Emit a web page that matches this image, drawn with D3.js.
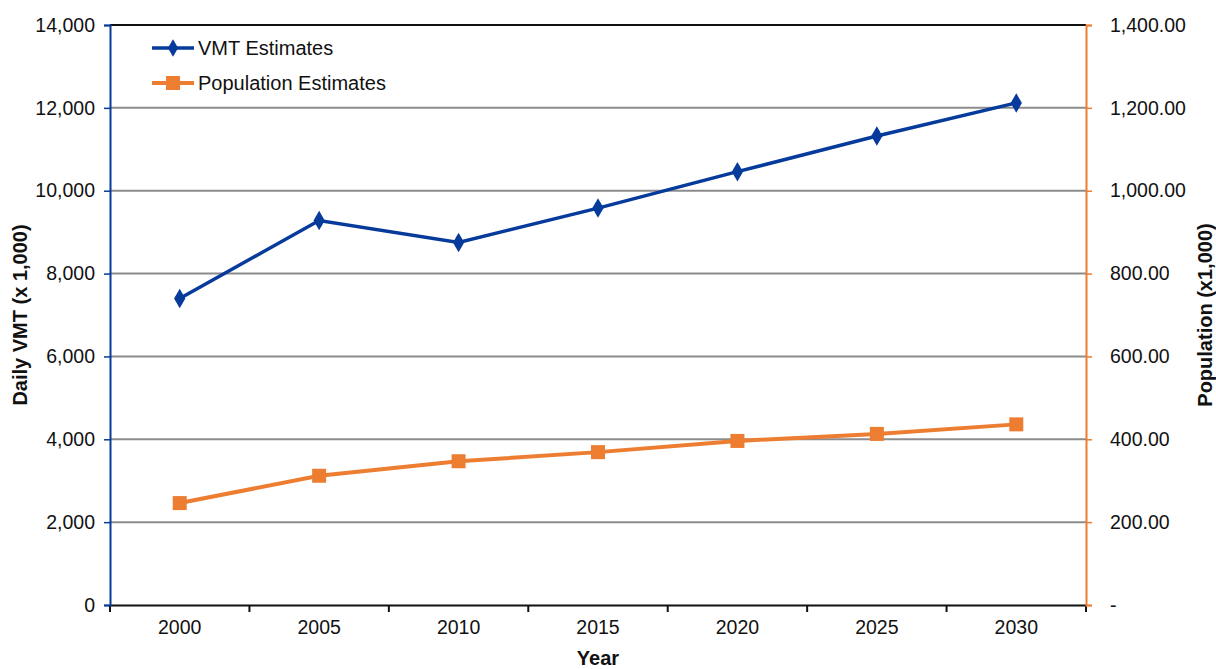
<!DOCTYPE html>
<html><head><meta charset="utf-8">
<script src="https://cdn.jsdelivr.net/npm/d3@7"></script>
<style>body{margin:0;background:#fff;font-family:"Liberation Sans",Arial,sans-serif;}</style>
</head><body>
<svg id="c" width="1216" height="669"></svg>
<script>
const years = ["2000","2005","2010","2015","2020","2025","2030"];
const vmt = [7400, 9280, 8750, 9580, 10460, 11320, 12120];
const population = [246, 312, 347, 369, 396, 413, 436];
const leftTicks = [0,2000,4000,6000,8000,10000,12000,14000];
const rightTicks = [0,200,400,600,800,1000,1200,1400];

const svg = d3.select("#c");
const m = {l:110, r:1086, t:25, b:605};
const x = d3.scaleBand().domain(years).range([m.l, m.r]);
const yL = d3.scaleLinear().domain([0,14000]).range([m.b, m.t]);
const yR = d3.scaleLinear().domain([0,1400]).range([m.b, m.t]);
const blue = "#063A9B", orange = "#ED7D31";
const FS = 19.5;

// gridlines
svg.append("g").selectAll("line").data(leftTicks.filter(d=>d>0 && d<14000)).join("line")
  .attr("x1", m.l).attr("x2", m.r).attr("y1", d=>yL(d)).attr("y2", d=>yL(d))
  .attr("stroke", "#8c8c8c").attr("stroke-width", 2);
// top border
svg.append("line").attr("x1", m.l).attr("x2", m.r).attr("y1", m.t).attr("y2", m.t)
  .attr("stroke", "#111").attr("stroke-width", 2);

// x axis
const fmtL = d3.format(",");
const gx = svg.append("g").attr("transform", `translate(0,${m.b})`)
  .call(d3.axisBottom(x).tickSize(0).tickPadding(15));
gx.select(".domain").attr("stroke", "#111").attr("stroke-width", 2);
gx.selectAll("text").attr("font-size", FS).attr("fill", "#111").attr("font-family", "Liberation Sans, Arial");
// band boundary ticks
const bounds = years.map(d => x(d)).concat([x(years[years.length-1]) + x.bandwidth()]);
svg.append("g").selectAll("line").data(bounds).join("line")
  .attr("x1", d=>d).attr("x2", d=>d).attr("y1", m.b).attr("y2", m.b+7)
  .attr("stroke", "#111").attr("stroke-width", 2);

// left axis
const gl = svg.append("g").attr("transform", `translate(${m.l},0)`)
  .call(d3.axisLeft(yL).tickValues(leftTicks).tickFormat(fmtL).tickSize(6).tickPadding(9));
gl.select(".domain").attr("stroke", blue).attr("stroke-width", 2);
gl.selectAll(".tick line").attr("stroke", blue).attr("stroke-width", 1.5);
gl.selectAll("text").attr("font-size", FS).attr("fill", "#111").attr("font-family", "Liberation Sans, Arial");

// right axis
const fmtR = d => d === 0 ? "-" : d3.format(",.2f")(d);
const gr = svg.append("g").attr("transform", `translate(${m.r},0)`)
  .call(d3.axisRight(yR).tickValues(rightTicks).tickFormat(fmtR).tickSize(6).tickPadding(18));
gr.select(".domain").attr("stroke", orange).attr("stroke-width", 2);
gr.selectAll(".tick line").attr("stroke", orange).attr("stroke-width", 1.5);
gr.selectAll("text").attr("font-size", FS).attr("fill", "#111").attr("font-family", "Liberation Sans, Arial");

// axis titles
svg.append("text").attr("transform", `translate(27,${(m.t+m.b)/2}) rotate(-90)`)
  .attr("text-anchor","middle").attr("font-size",20).attr("font-weight","bold").attr("fill","#111")
  .text("Daily VMT (x 1,000)");
svg.append("text").attr("transform", `translate(1212,${(m.t+m.b)/2}) rotate(-90)`)
  .attr("text-anchor","middle").attr("font-size",20).attr("font-weight","bold").attr("fill","#111")
  .text("Population (x1,000)");
svg.append("text").attr("x", (m.l+m.r)/2).attr("y", 665)
  .attr("text-anchor","middle").attr("font-size",20).attr("font-weight","bold").attr("fill","#111")
  .text("Year");

const cx = d => x(d) + x.bandwidth()/2;
// VMT line
svg.append("path").datum(vmt)
  .attr("d", d3.line().x((d,i)=>cx(years[i])).y(d=>yL(d)))
  .attr("fill","none").attr("stroke", blue).attr("stroke-width", 3.5);
svg.append("g").selectAll("path").data(vmt).join("path")
  .attr("d", d3.symbol(d3.symbolDiamond, 110))
  .attr("transform", (d,i)=>`translate(${cx(years[i])},${yL(d)})`)
  .attr("fill", blue);
// Population line
svg.append("path").datum(population)
  .attr("d", d3.line().x((d,i)=>cx(years[i])).y(d=>yR(d)))
  .attr("fill","none").attr("stroke", orange).attr("stroke-width", 4);
svg.append("g").selectAll("rect").data(population).join("rect")
  .attr("x", (d,i)=>cx(years[i])-7).attr("y", d=>yR(d)-7).attr("width",14).attr("height",14)
  .attr("fill", orange);

// legend
const leg = [{name:"VMT Estimates", c:blue, sym:"d"}, {name:"Population Estimates", c:orange, sym:"s"}];
const lg = svg.append("g").selectAll("g").data(leg).join("g")
  .attr("transform", (d,i)=>`translate(152,${48+i*35})`);
lg.append("line").attr("x1",0).attr("x2",42).attr("stroke", d=>d.c).attr("stroke-width", d=>d.sym==="d"?3.5:4);
lg.filter(d=>d.sym==="d").append("path").attr("d", d3.symbol(d3.symbolDiamond, 90)).attr("transform","translate(21,0)").attr("fill", blue);
lg.filter(d=>d.sym==="s").append("rect").attr("x",14).attr("y",-7).attr("width",14).attr("height",14).attr("fill", orange);
lg.append("text").attr("x",46).attr("y",7).attr("font-size",20).attr("fill","#111").text(d=>d.name);
</script>
</body></html>
